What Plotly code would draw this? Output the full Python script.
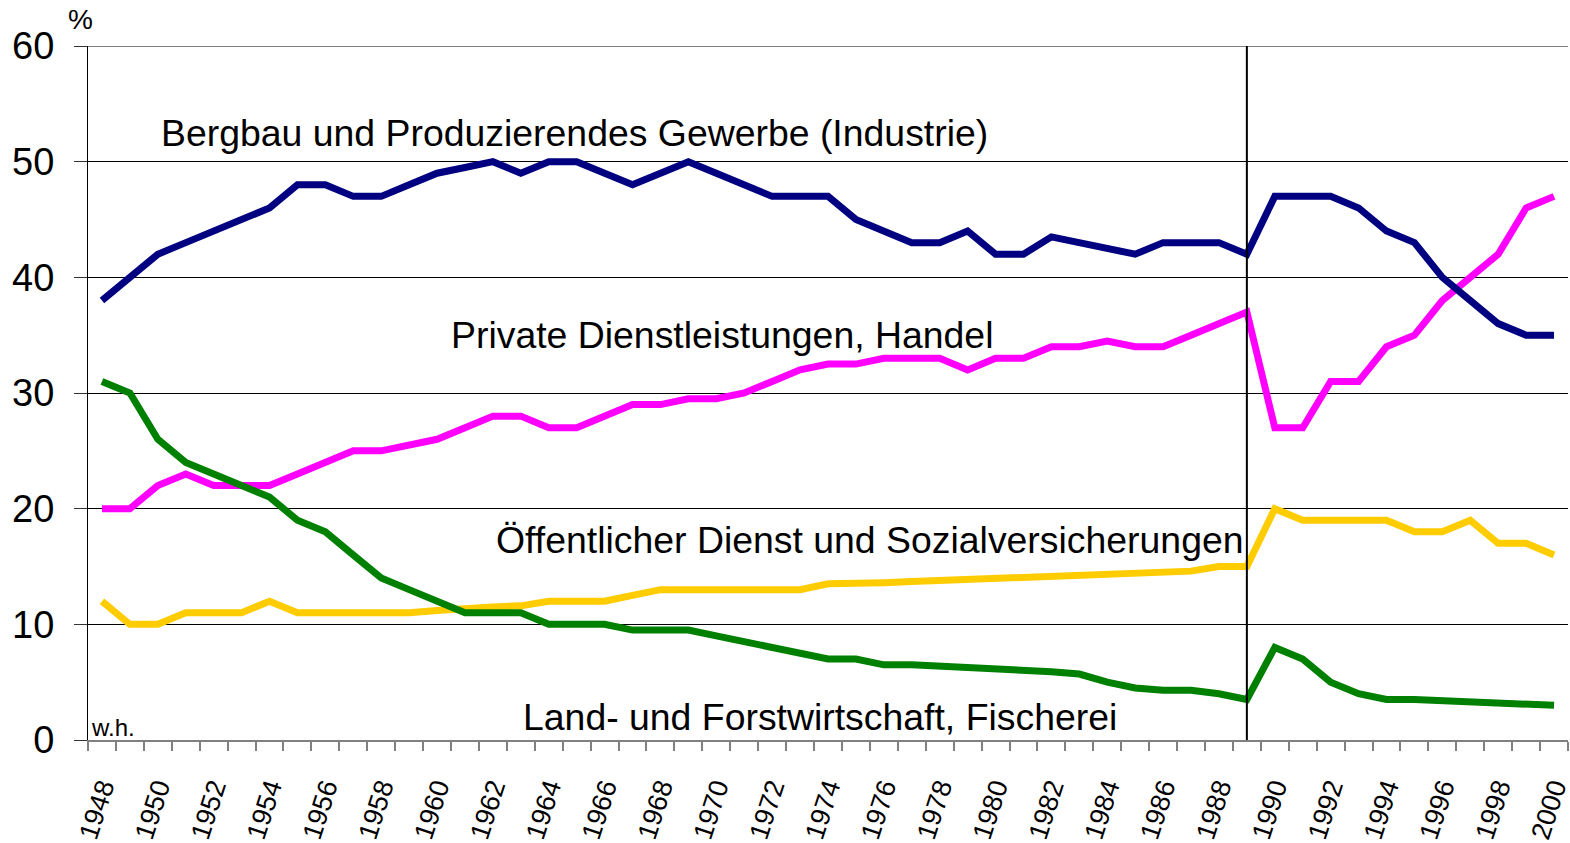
import plotly.graph_objects as go

years = list(range(1948, 2001))

industrie = [38, 40, 42, 43, 44, 45, 46, 48, 48, 47,
             47, 48, 49, 49.5, 50, 49, 50, 50, 49, 48,
             49, 50, 49, 48, 47, 47, 47, 45, 44, 43,
             43, 44, 42, 42, 43.5, 43, 42.5, 42, 43, 43,
             43, 42, 47, 47, 47, 46, 44, 43, 40, 38,
             36, 35, 35]

private = [20, 20, 22, 23, 22, 22, 22, 23, 24, 25,
           25, 25.5, 26, 27, 28, 28, 27, 27, 28, 29,
           29, 29.5, 29.5, 30, 31, 32, 32.5, 32.5, 33, 33,
           33, 32, 33, 33, 34, 34, 34.5, 34, 34, 35,
           36, 37, 27, 27, 31, 31, 34, 35, 38, 40,
           42, 46, 47]

oeffentlich = [12, 10, 10, 11, 11, 11, 12, 11, 11, 11,
               11, 11, 11.2, 11.4, 11.5, 11.6, 12, 12, 12, 12.5,
               13, 13, 13, 13, 13, 13, 13.5, 13.5, 13.6, 13.7,
               13.8, 13.9, 14, 14, 14.1, 14.2, 14.3, 14.5, 14.5, 14.6,
               15, 15, 20, 19, 19, 19, 19, 18, 18, 19,
               17, 17, 16]

land = [31, 30, 26, 24, 23, 22, 21, 19, 18, 16,
        14, 13, 12, 11, 11, 11, 10, 10, 10, 9.5,
        9.5, 9.5, 9, 8.5, 8, 7.5, 7, 7, 6.5, 6.5,
        6.4, 6.3, 6.1, 6.0, 5.9, 5.7, 5.0, 4.5, 4.3, 4.3,
        4.0, 3.5, 8, 7, 5, 4, 3.5, 3.5, 3.4, 3.3,
        3.2, 3.0, 3.0]

label_years = list(range(1948, 2001, 2))
label_text = [str(y) for y in label_years]
y_ticks = [0, 10, 20, 30, 40, 50, 60]

series = [
    ("Öffentlicher Dienst und Sozialversicherungen", oeffentlich, "#FFCC00"),
    ("Private Dienstleistungen, Handel", private, "#FF00FF"),
    ("Bergbau und Produzierendes Gewerbe (Industrie)", industrie, "#000080"),
    ("Land- und Forstwirtschaft, Fischerei", land, "#008000"),
]

FONT = "Liberation Sans, Arial, Helvetica, sans-serif"

fig = go.Figure()
for name, vals, col in series:
    fig.add_trace(go.Scatter(x=years, y=vals, mode="lines", name=name,
                             line=dict(color=col, width=7),
                             showlegend=False))

# vertical separator at 1989
fig.add_shape(type="line", xref="x", yref="y", x0=1989, x1=1989, y0=0, y1=60.35,
              line=dict(color="black", width=2), layer="above")
# top line in gray
fig.add_shape(type="line", xref="paper", yref="y", x0=-0.009, x1=1, y0=60, y1=60,
              line=dict(color="#808080", width=2), layer="below")

labels = [
    ("Bergbau und Produzierendes Gewerbe (Industrie)", 1950.05, 52.45),
    ("Private Dienstleistungen, Handel", 1960.42, 35.0),
    ("Öffentlicher Dienst und Sozialversicherungen", 1962.05, 17.3),
    ("Land- und Forstwirtschaft, Fischerei", 1963.0, 2.0),
]
for txt, xx, yy in labels:
    fig.add_annotation(x=xx, y=yy, xref="x", yref="y", text=txt, showarrow=False,
                       xanchor="left", yanchor="middle",
                       font=dict(family=FONT, size=37.4, color="black"))

fig.add_annotation(xref="x domain", yref="y domain",
                   x=(80 - 88) / 1480, y=(740 - 19) / 694,
                   text="%", showarrow=False, xanchor="center", yanchor="middle",
                   font=dict(family=FONT, size=28, color="black"))
fig.add_annotation(xref="x domain", yref="y domain", x=(89 - 88) / 1480, y=(740 - 727) / 694,
                   text="w.h.", showarrow=False, xanchor="left", yanchor="middle",
                   font=dict(family=FONT, size=24, color="black"))

fig.update_layout(
    width=1570, height=843,
    margin=dict(l=88, r=2, t=46, b=103),
    paper_bgcolor="white", plot_bgcolor="white",
    font=dict(family=FONT, color="black"),
    xaxis=dict(
        range=[1947.5, 2000.5], automargin=False,
        tickmode="array", tickvals=label_years, ticktext=label_text,
        tickangle=-72, tickfont=dict(size=27, family=FONT, color="black"),
        ticklabeloverflow="allow",
        ticks="", showgrid=False, zeroline=False,
        showline=True, linecolor="#808080", linewidth=2,
        ticklabelstandoff=19,
        minor=dict(ticks="outside", tick0=1947.5, dtick=1, ticklen=9,
                   tickcolor="#808080", tickwidth=1.5, showgrid=False),
    ),
    yaxis=dict(
        range=[0, 60], tickmode="array", tickvals=y_ticks, automargin=False,
        tickfont=dict(size=38, family=FONT, color="black"),
        ticks="outside", ticklen=13, tickcolor="#333333", tickwidth=1,
        ticklabelstandoff=12,
        showgrid=True, gridcolor="#000000", gridwidth=1,
        zeroline=False, showline=True, linecolor="black", linewidth=1,
    ),
)

fig.write_html("out.html", config={"displayModeBar": False},
               post_script="document.body.style.margin='0';document.body.style.overflow='hidden';")
